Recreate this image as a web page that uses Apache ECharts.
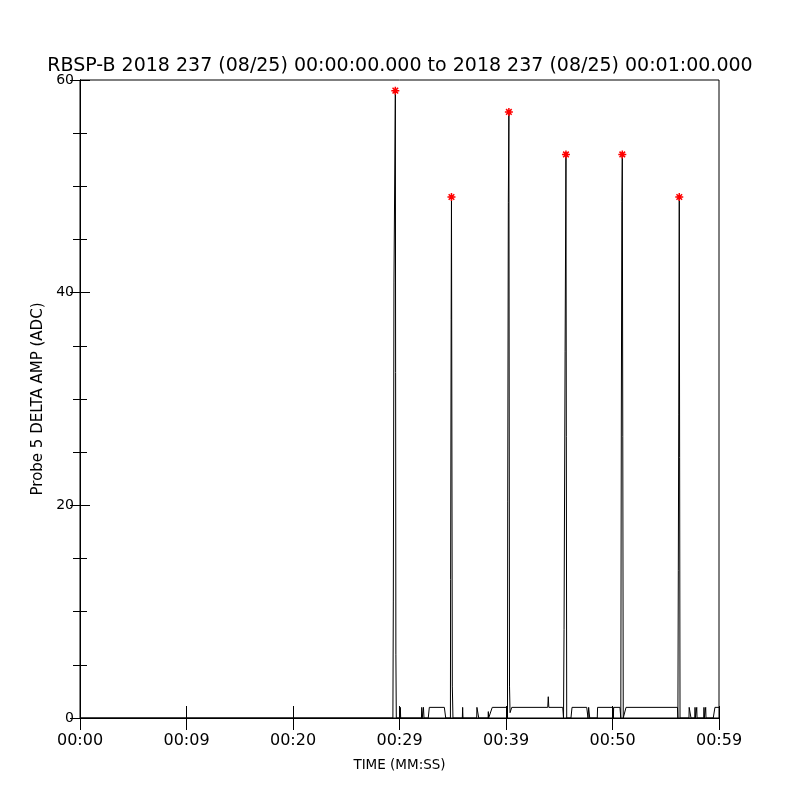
<!DOCTYPE html>
<html>
<head>
<meta charset="utf-8">
<script src="https://cdn.jsdelivr.net/npm/echarts@6/dist/echarts.min.js"></script>
<style>html,body{margin:0;padding:0;background:#fff}#c{width:800px;height:800px}</style>
</head>
<body>
<div id="c"></div>
<script>
// Time (seconds after 00:00:00) and Probe 5 DELTA AMP (ADC)
var times = [
  0, 29.38,
  29.42, 29.48, 29.61, 29.66, 29.70,
  30.05, 30.08, 30.11,
  32.06, 32.09, 32.13, 32.21, 32.25, 32.30,
  32.70, 32.80, 34.21, 34.34,
  34.78, 34.80, 34.85, 34.88, 34.96, 35.02,
  35.90, 35.93, 35.96,
  37.25, 37.27, 37.42, 37.44,
  38.32, 38.34, 38.37, 38.54, 38.71, 40.10, 40.14,
  40.16, 40.22, 40.27, 40.33, 40.38, 40.54,
  43.92, 43.97, 44.02, 45.33, 45.40,
  45.45, 45.55, 45.63, 45.70,
  46.10, 46.20, 47.58, 47.62, 47.70, 47.76, 47.86,
  48.57, 48.60, 50.05, 50.08, 50.11, 50.70, 50.78,
  50.83, 50.88, 50.92, 51.01,
  51.14, 51.27, 56.10, 56.14,
  56.18, 56.22, 56.27, 56.34,
  57.18, 57.20, 57.35, 57.37,
  57.73, 57.75, 57.78, 57.89, 57.91, 57.94,
  58.57, 58.59, 58.62, 58.73, 58.75, 58.78,
  59.46, 59.62, 60
];
var values = [
  0, 0,
  11, 41, 59, 6, 0,
  0, 1, 0,
  0, 1, 0, 0, 1, 0,
  0, 1, 1, 0,
  0, 13, 37.5, 49, 3, 0,
  0, 1, 0,
  0, 1, 1, 0,
  0, 0.6, 0, 0, 1, 1, 0,
  20.4, 48.5, 57, 3, 0.5, 1,
  1, 2, 1, 1, 0,
  8.3, 34.5, 53, 0,
  0, 1, 1, 1, 0, 1, 0,
  0, 1, 1, 0, 1, 1, 0,
  28.4, 48.6, 53, 0,
  0, 1, 1, 0,
  13.9, 28.5, 49, 0,
  0, 1, 1, 0,
  0, 1, 0, 0, 1, 0,
  0, 1, 0, 0, 1, 0,
  0, 1, 1
];
var peakTimes = [29.61, 34.88, 40.27, 45.63, 50.92, 56.27];
var peakValues = [59, 49, 57, 53, 53, 49];
var xTickLabels = ['00:00', '00:09', '00:20', '00:29', '00:39', '00:50', '00:59'];
var yTickLabels = ['0', '20', '40', '60'];
var titleText = 'RBSP-B 2018 237 (08/25) 00:00:00.000 to 2018 237 (08/25) 00:01:00.000';

var lineData = times.map(function (t, i) { return [t, values[i]]; });
var peakData = peakTimes.map(function (t, i) { return [t, peakValues[i]]; });

var FONT = 'DejaVu Sans';
var chart = echarts.init(document.getElementById('c'), null, {renderer: 'canvas'});
var axisLine = {show: true, lineStyle: {color: '#000', width: 1}};
chart.setOption({
  animation: false,
  backgroundColor: '#fff',
  title: {
    text: titleText, left: 'center', top: 52,
    textStyle: {fontFamily: FONT, fontSize: 19, fontWeight: 'normal', color: '#000'}
  },
  grid: {left: 80, right: 81, top: 80, bottom: 82, show: true, borderColor: '#000', borderWidth: 1, backgroundColor: 'transparent'},
  xAxis: [{
    type: 'value', min: 0, max: 60, interval: 10, position: 'bottom',
    axisLine: axisLine,
    axisTick: {show: true, inside: true, length: 12, lineStyle: {color: '#000'}},
    splitLine: {show: false},
    axisLabel: {
      margin: 15, fontFamily: FONT, fontSize: 16, color: '#000',
      formatter: function (v) { return xTickLabels[Math.round(v / 10)]; }
    },
    name: 'TIME (MM:SS)', nameLocation: 'middle', nameGap: 40,
    nameTextStyle: {fontFamily: FONT, fontSize: 13.5, color: '#000'}
  }, {
    type: 'value', min: 0, max: 60, interval: 10, position: 'top',
    axisLine: axisLine,
    axisTick: {show: true, inside: true, length: 12, lineStyle: {color: '#000'}},
    splitLine: {show: false}, axisLabel: {show: false}
  }],
  yAxis: [{
    type: 'value', min: 0, max: 60, interval: 20, position: 'left',
    axisLine: axisLine,
    axisTick: {show: true, inside: true, length: 10, lineStyle: {color: '#000'}},
    minorTick: {show: true, splitNumber: 4, length: 7, lineStyle: {color: '#000'}},
    splitLine: {show: false}, minorSplitLine: {show: false},
    axisLabel: {
      margin: 6, fontFamily: FONT, fontSize: 14, color: '#000',
      formatter: function (v) { return yTickLabels[Math.round(v / 20)]; }
    },
    name: 'Probe 5 DELTA AMP (ADC)', nameLocation: 'middle', nameGap: 31,
    nameTextStyle: {fontFamily: FONT, fontSize: 15, color: '#000'}
  }, {
    type: 'value', min: 0, max: 60, interval: 20, position: 'right',
    axisLine: axisLine,
    axisTick: {show: true, inside: true, length: 10, lineStyle: {color: '#000'}},
    minorTick: {show: true, splitNumber: 4, length: 7, lineStyle: {color: '#000'}},
    splitLine: {show: false}, minorSplitLine: {show: false},
    axisLabel: {show: false}
  }],
  series: [{
    type: 'line', data: lineData, xAxisIndex: 0, yAxisIndex: 0,
    showSymbol: false, symbol: 'none',
    lineStyle: {color: '#000', width: 1}, z: 2
  }, {
    type: 'scatter', data: peakData, xAxisIndex: 0, yAxisIndex: 0,
    symbol: 'path://M5,0L5,10M0,5L10,5M1.5,1.5L8.5,8.5M1.5,8.5L8.5,1.5',
    symbolSize: 8,
    itemStyle: {color: 'rgba(0,0,0,0)', borderColor: '#ff0000', borderWidth: 1.5, opacity: 1},
    z: 5
  }]
});
</script>
</body>
</html>
